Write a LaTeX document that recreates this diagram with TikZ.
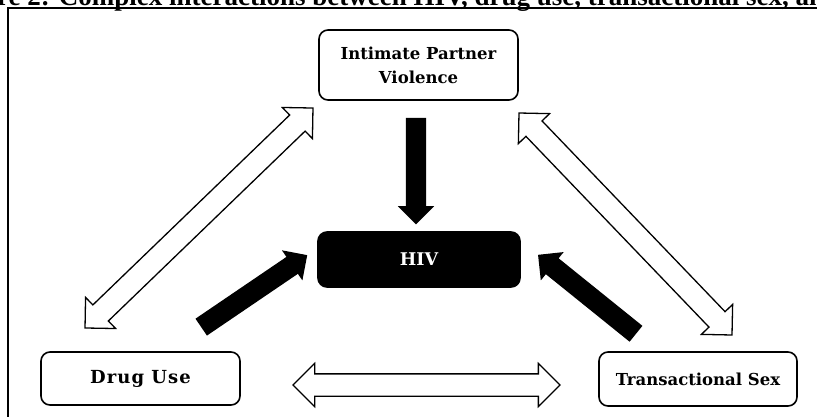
\documentclass[tikz,border=0pt]{standalone}
\usepackage{fontspec}
\setmainfont{Liberation Serif}
\newfontfamily\boxfont{DejaVu Serif}
\usetikzlibrary{shapes.arrows,calc}

\tikzset{
  box/.style={draw, rounded corners=9pt, line width=1.6pt, align=center, inner sep=0pt,
    font=\boxfont\bfseries\fontsize{16.5}{24}\selectfont},
  openarrow/.style={double arrow, draw, line width=1.3pt, fill=white, inner xsep=0pt, inner ysep=10.5pt,
    double arrow head extend=10.5pt, sloped, allow upside down},
  solidarrow/.style={single arrow, fill=black, inner xsep=0pt, inner ysep=10pt,
    single arrow head extend=8pt, sloped, allow upside down},
}

% fat arrow laid from one point to another
\newcommand{\fatlink}[3]{%
  \path let \p1=($(#3)-(#2)$), \n1={veclen(\x1,\y1)} in
    (#2) -- node[#1, minimum height=\n1] {} (#3);}

\begin{document}
\begin{tikzpicture}[x=1pt,y=-1pt]
  \useasboundingbox (0,0) rectangle (817,416);

  % caption and frame, cut by the page
  \begin{scope}
    \clip (0,0) rectangle (817,416);
    \node[anchor=base west, inner sep=0pt, font=\bfseries\fontsize{27}{28}\selectfont] (caption) at (-3,5)
      {re 2: Complex interactions between HIV, drug use, transactional sex, an};
    \draw[line width=2.7pt] (8,430) -- (8,8) -- (830,8);
  \end{scope}

  % Draw the boxes
  \node[box, minimum width=199pt, minimum height=70pt] (ipv) at (418.5,65) {Intimate Partner\\Violence};
  \node[box, fill=black, text=white, minimum width=202pt, minimum height=55pt] (hiv) at (419,259.5)
    {\fontsize{17.5}{24}\selectfont HIV};
  \node[box, minimum width=199pt, minimum height=53pt] (drug) at (140.5,378.5)
    {\fontsize{18}{24}\selectfont\addfontfeature{LetterSpace=6}Drug Use};
  \node[box, minimum width=198pt, minimum height=54pt] (sex) at (698,379) {Transactional Sex};

  % arrow ends
  \coordinate (ipvdown) at ($(ipv.south)+(-2.5,12)$);
  \coordinate (hivtop) at ($(hiv.north)+(-3,-12)$);
  \coordinate (drugout) at (197,330);
  \coordinate (hivleft) at (303,258);
  \coordinate (sexout) at (640,337);
  \coordinate (hivright) at (542,258);
  \coordinate (drugtip) at (85,328);
  \coordinate (ipvleft) at (313,108);
  \coordinate (ipvright) at (519,113);
  \coordinate (sextip) at (732,335);
  \coordinate (drugright) at (293,385);
  \coordinate (sexleft) at (560,385);

  % Connect the boxes with arrows
  \fatlink{solidarrow}{ipvdown}{hivtop}
  \fatlink{solidarrow}{drugout}{hivleft}
  \fatlink{solidarrow}{sexout}{hivright}
  \fatlink{openarrow}{drugtip}{ipvleft}
  \fatlink{openarrow}{sextip}{ipvright}
  \fatlink{openarrow}{drugright}{sexleft}
\end{tikzpicture}
\end{document}
